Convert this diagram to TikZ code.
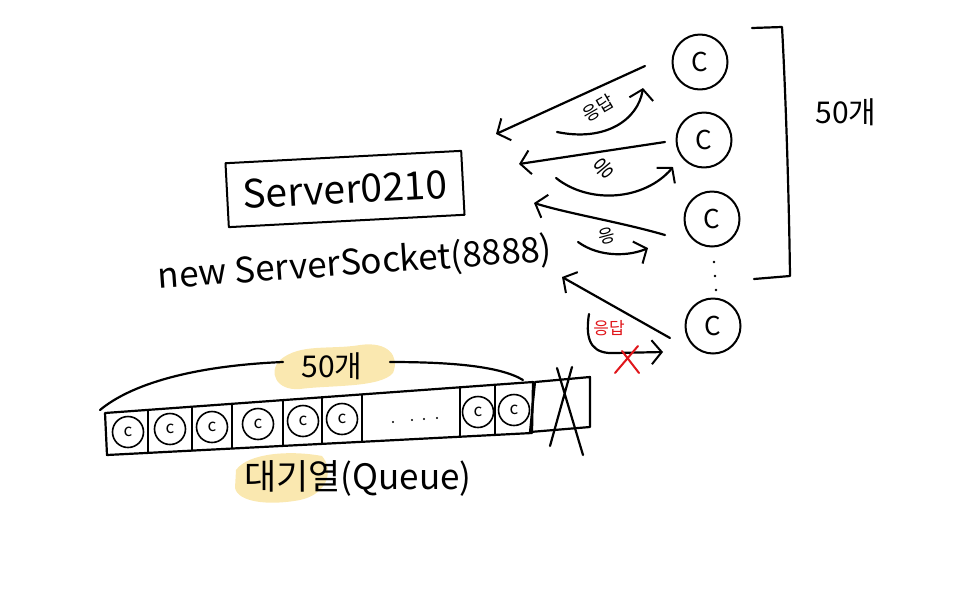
\documentclass[tikz,border=0pt]{standalone}
\usepackage{fontspec}
\setmainfont{Noto Sans CJK KR}
\usetikzlibrary{arrows.meta}
\definecolor{hlyellow}{HTML}{FAE8B0}
\definecolor{penred}{HTML}{E0161B}
\begin{document}
\begin{tikzpicture}[x=1pt,y=-1pt,line width=2.2pt,line cap=round,line join=round,
  client/.style={circle,draw,line width=2pt,minimum size=55pt,inner sep=0pt,font=\fontsize{26}{26}\selectfont},
  qc/.style={circle,draw,line width=1.6pt,minimum size=31pt,inner sep=0pt,font=\fontsize{17}{17}\selectfont},
  barb/.style={-{Straight Barb[length=10pt,width=24pt,line width=2pt]}},
  lbl/.style={inner sep=0pt,font=\fontsize{18}{18}\selectfont},
  bigtxt/.style={inner sep=0pt,font=\fontsize{39}{39}\selectfont},
  midtxt/.style={inner sep=0pt,font=\fontsize{35}{35}\selectfont},
  smalltxt/.style={inner sep=0pt,font=\fontsize{30}{30}\selectfont},
  hl/.style={fill=hlyellow,draw=none}]
\useasboundingbox (0,0) rectangle (960,600);
% yellow highlights
\fill[hl] (280,360) .. controls (300,343) and (330,350) .. (360,345) .. controls (388,341) and (400,356) .. (393,373) .. controls (380,388) and (330,385) .. (300,389) .. controls (276,391) and (268,372) .. (280,360) -- cycle;
\fill[hl] (236,470) .. controls (248,453) and (290,450) .. (322,456) .. controls (334,470) and (328,494) .. (300,500) .. controls (268,506) and (238,502) .. (235,488) -- cycle;
% server
\node[draw,line width=2pt,rotate=3,minimum width=236pt,minimum height=64pt,bigtxt] (server) at (345,189) {Server0210};
\node[midtxt,rotate=4] (socket) at (355,264) {new ServerSocket(8888)};
% clients
\node[client] (c1) at (700,62) {C};
\node[client] (c2) at (704,140) {C};
\node[client] (c3) at (712,219) {C};
\node[client] (c4) at (713,326) {C};
\fill (714,262) circle (1.3pt) (715,276) circle (1.3pt) (716,290) circle (1.3pt);
% bracket
\draw (752,28) -- (782,27) .. controls (786,100) and (789,200) .. (790,276) -- (754,279);
\node[smalltxt] (n50a) at (846,112) {50개};
% request arrows
\coordinate (q1) at (645,66); \coordinate (t1) at (496,134);
\coordinate (q2) at (665,142); \coordinate (t2) at (519,164);
\coordinate (q3) at (665,235); \coordinate (t3) at (534,203);
\coordinate (q4) at (670,338); \coordinate (t4) at (562,277);
\draw[barb] (q1) -- (t1);
\draw[barb] (q2) -- (t2);
\draw[barb] (q3) .. controls (620,222) and (570,214) .. (t3);
\draw[barb] (q4) -- (t4);
% response arrows
\coordinate (a1) at (557,132); \coordinate (b1) at (643,88);
\coordinate (a2) at (556,178); \coordinate (b2) at (673,167);
\coordinate (a3) at (578,242); \coordinate (b3) at (648,248);
\coordinate (a4) at (589,314); \coordinate (b4) at (663,352);
\draw[barb] (a1) .. controls (605,142) and (638,120) .. (b1);
\draw[barb] (a2) .. controls (590,205) and (645,200) .. (b2);
\draw[barb] (a3) .. controls (600,258) and (630,256) .. (b3);
\draw[barb] (a4) .. controls (584,345) and (595,354) .. (615,353) -- (b4);
\node[lbl,rotate=30] (r1) at (598,108) {응답};
\node[lbl,rotate=40,font=\fontsize{21}{21}\selectfont] (r2) at (604,168) {응};
\node[lbl,rotate=15] (r3) at (607,236) {응};
\node[lbl,text=penred,font=\fontsize{17}{17}\selectfont] (r4) at (609,328) {응답};
\draw[penred,line width=2pt] (638,346) -- (615,373) (622,351) -- (639,373);
% queue
\draw (105,413) -- (533,382) -- (532,433) -- (107,455) -- cycle;
\foreach \x in {148,192,232,283,322,362,460,495}{
  \draw[line width=1.8pt] (\x,{413-(\x-105)*31/428}) -- (\x,{455-(\x-107)*22/426});
}
\foreach \x/\y/\n in {128/432/1,170/429/2,212/427/3,258/424/4,303/421/5,342/419/6,478/412/7,514/410/8}{
  \node[qc] (qc\n) at (\x,\y) {c};
}
\fill (393,422) circle (1.2pt) (412,420) circle (1.2pt) (424,419) circle (1.2pt) (437,418) circle (1.2pt);
\draw (535,382) -- (590,377) -- (590,427) -- (530,432) -- cycle;
\draw (557,368) -- (583,455) (572,367) -- (550,446);
% arc over queue
\node[smalltxt] (n50b) at (332,366) {50개};
\draw (100,410) .. controls (130,385) and (190,366) .. (283,362);
\draw (390,362) .. controls (450,362) and (500,366) .. (523,380);
\node[midtxt] (queue) at (358,478) {대기열(Queue)};
\end{tikzpicture}
\end{document}
